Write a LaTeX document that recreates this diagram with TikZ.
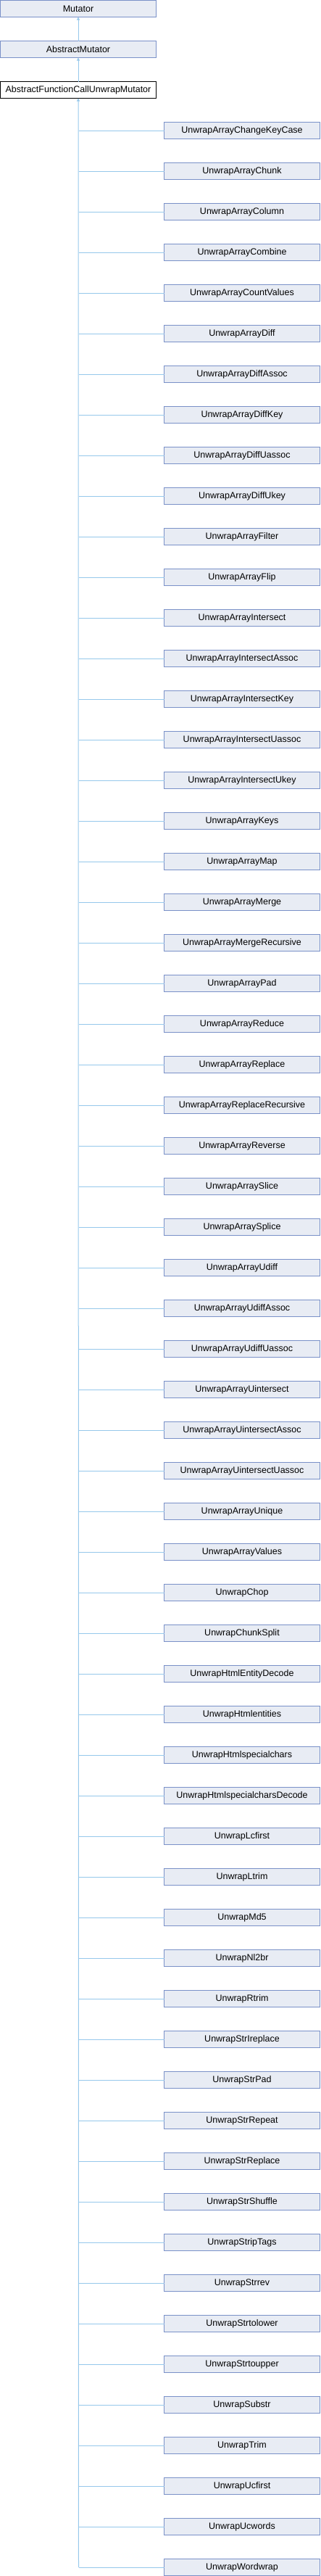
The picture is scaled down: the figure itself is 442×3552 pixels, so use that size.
\documentclass[tikz,border=0pt]{standalone}
\usepackage{fontspec}
\setmainfont{Liberation Sans}
\usetikzlibrary{arrows.meta}
\definecolor{boxfill}{RGB}{232,236,244}
\definecolor{boxline}{RGB}{122,145,200}
\definecolor{edgecol}{RGB}{150,200,235}
\tikzset{
  cls/.style={draw=boxline, fill=boxfill, line width=1pt, minimum width=215pt, minimum height=23pt, inner sep=0pt, outer sep=0pt, font=\fontsize{12.5}{14}\selectfont},
  clsmain/.style={cls, draw=black, fill=white},
  edge/.style={draw=edgecol, line width=1pt},
  inh/.style={edge, -{Triangle[length=4pt,width=4pt]}}
}
\begin{document}
\begin{tikzpicture}[x=1pt,y=-1pt]
\useasboundingbox (0,0) rectangle (442,3552);
\node[cls] (p1) at (108,12) {Mutator};
\node[cls] (p2) at (108,68) {AbstractMutator};
\node[clsmain] (p3) at (108,124) {AbstractFunctionCallUnwrapMutator};
\draw[inh] (p2.north) -- (p1.south);
\draw[inh] (p3.north) -- (p2.south);
\foreach \name [count=\i from 0] in {UnwrapArrayChangeKeyCase,UnwrapArrayChunk,UnwrapArrayColumn,UnwrapArrayCombine,UnwrapArrayCountValues,UnwrapArrayDiff,UnwrapArrayDiffAssoc,UnwrapArrayDiffKey,UnwrapArrayDiffUassoc,UnwrapArrayDiffUkey,UnwrapArrayFilter,UnwrapArrayFlip,UnwrapArrayIntersect,UnwrapArrayIntersectAssoc,UnwrapArrayIntersectKey,UnwrapArrayIntersectUassoc,UnwrapArrayIntersectUkey,UnwrapArrayKeys,UnwrapArrayMap,UnwrapArrayMerge,UnwrapArrayMergeRecursive,UnwrapArrayPad,UnwrapArrayReduce,UnwrapArrayReplace,UnwrapArrayReplaceRecursive,UnwrapArrayReverse,UnwrapArraySlice,UnwrapArraySplice,UnwrapArrayUdiff,UnwrapArrayUdiffAssoc,UnwrapArrayUdiffUassoc,UnwrapArrayUintersect,UnwrapArrayUintersectAssoc,UnwrapArrayUintersectUassoc,UnwrapArrayUnique,UnwrapArrayValues,UnwrapChop,UnwrapChunkSplit,UnwrapHtmlEntityDecode,UnwrapHtmlentities,UnwrapHtmlspecialchars,UnwrapHtmlspecialcharsDecode,UnwrapLcfirst,UnwrapLtrim,UnwrapMd5,UnwrapNl2br,UnwrapRtrim,UnwrapStrIreplace,UnwrapStrPad,UnwrapStrRepeat,UnwrapStrReplace,UnwrapStrShuffle,UnwrapStripTags,UnwrapStrrev,UnwrapStrtolower,UnwrapStrtoupper,UnwrapSubstr,UnwrapTrim,UnwrapUcfirst,UnwrapUcwords,UnwrapWordwrap}{
  \pgfmathsetmacro{\yy}{180+56*\i}
  \node[cls] (c\i) at (334,\yy) {\name};
  \coordinate (j\i) at (108.5,\yy);
  \draw[edge] (j\i) -- (c\i.west);
}
\draw[inh] (j60) -- (p3.south);
\end{tikzpicture}
\end{document}
